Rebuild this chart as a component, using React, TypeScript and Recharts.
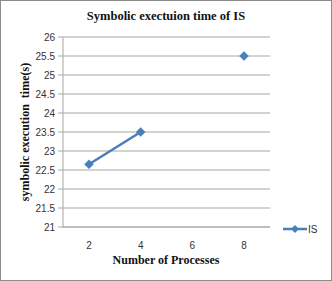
import React from "react";
import { LineChart, Line, XAxis, YAxis, CartesianGrid } from "recharts";

const processes = ["2", "4", "6", "8"];
const isTimes: (number | null)[] = [22.65, 23.5, null, 25.5];
const yTicks = [21, 21.5, 22, 22.5, 23, 23.5, 24, 24.5, 25, 25.5, 26];
const seriesName = "IS";

const data = processes.map((p, i) => ({ x: p, IS: isTimes[i] }));

const LINE = "#4a7ebb";
const serif = "'Liberation Serif', 'Times New Roman', serif";
const sans = "'Liberation Sans', Arial, sans-serif";

const Diamond = (props: any) => {
  const { cx, cy } = props;
  if (cx == null || cy == null || props.value == null) return null;
  const r = 4.5;
  return (
    <path
      d={`M${cx},${cy - r}L${cx + r},${cy}L${cx},${cy + r}L${cx - r},${cy}Z`}
      fill={LINE}
      stroke={LINE}
      strokeWidth={0.5}
    />
  );
};

export default function App() {
  return (
    <div
      style={{
        position: "absolute",
        left: 0,
        top: 0,
        width: 332,
        height: 281,
        boxSizing: "border-box",
        border: "1px solid #8c8c8c",
        background: "#fff",
      }}
    >
      <div
        style={{
          position: "absolute",
          left: 0,
          top: 8,
          width: 330,
          textAlign: "center",
          fontFamily: serif,
          fontWeight: "bold",
          fontSize: 12.5,
          color: "#111",
        }}
      >
        Symbolic exectuion time of IS
      </div>
      <div style={{ position: "absolute", left: -1, top: -1 }}>
        <LineChart
          width={332}
          height={281}
          data={data}
          margin={{ top: 37, right: 62, left: 30, bottom: 0 }}
        >
          <CartesianGrid vertical={false} stroke="#a6a6a6" strokeWidth={1} />
          <XAxis
            dataKey="x"
            type="category"
            height={54}
            padding={{ left: 26, right: 26 }}
            axisLine={{ stroke: "#a6a6a6" }}
            tickLine={false}
            tick={{ fontFamily: sans, fontSize: 10, fill: "#333" }}
            tickMargin={9}
            label={{
              content: () => (
                <text
                  x={166}
                  y={264}
                  textAnchor="middle"
                  fontFamily={serif}
                  fontWeight="bold"
                  fontSize={12}
                  fill="#111"
                >
                  Number of Processes
                </text>
              ),
            }}
          />
          <YAxis
            width={33}
            domain={[21, 26]}
            ticks={yTicks}
            interval={0}
            axisLine={{ stroke: "#a6a6a6" }}
            tickLine={{ stroke: "#a6a6a6" }}
            tickSize={5}
            tickMargin={3}
            tick={{ fontFamily: sans, fontSize: 10, fill: "#333" }}
            label={{
              content: () => (
                <text
                  x={25}
                  y={132}
                  transform="rotate(-90 25 132)"
                  textAnchor="middle"
                  dominantBaseline="central"
                  fontFamily={serif}
                  fontWeight="bold"
                  fontSize={12}
                  fill="#111"
                  style={{ whiteSpace: "pre" }}
                >
                  {"symbolic execution  time(s)"}
                </text>
              ),
            }}
          />
          <Line
            type="linear"
            dataKey="IS"
            name={seriesName}
            stroke={LINE}
            strokeWidth={2.5}
            dot={<Diamond />}
            activeDot={false}
            connectNulls={false}
            isAnimationActive={false}
          />
        </LineChart>
      </div>
      <svg
        width={45}
        height={14}
        style={{ position: "absolute", left: 282, top: 221, overflow: "visible" }}
      >
        <line x1={0} y1={7} x2={24} y2={7} stroke={LINE} strokeWidth={2.5} />
        <path d="M12,3L16,7L12,11L8,7Z" fill={LINE} />
        <text x={25} y={11} fontFamily={sans} fontSize={10} fill="#333">
          {seriesName}
        </text>
      </svg>
    </div>
  );
}
